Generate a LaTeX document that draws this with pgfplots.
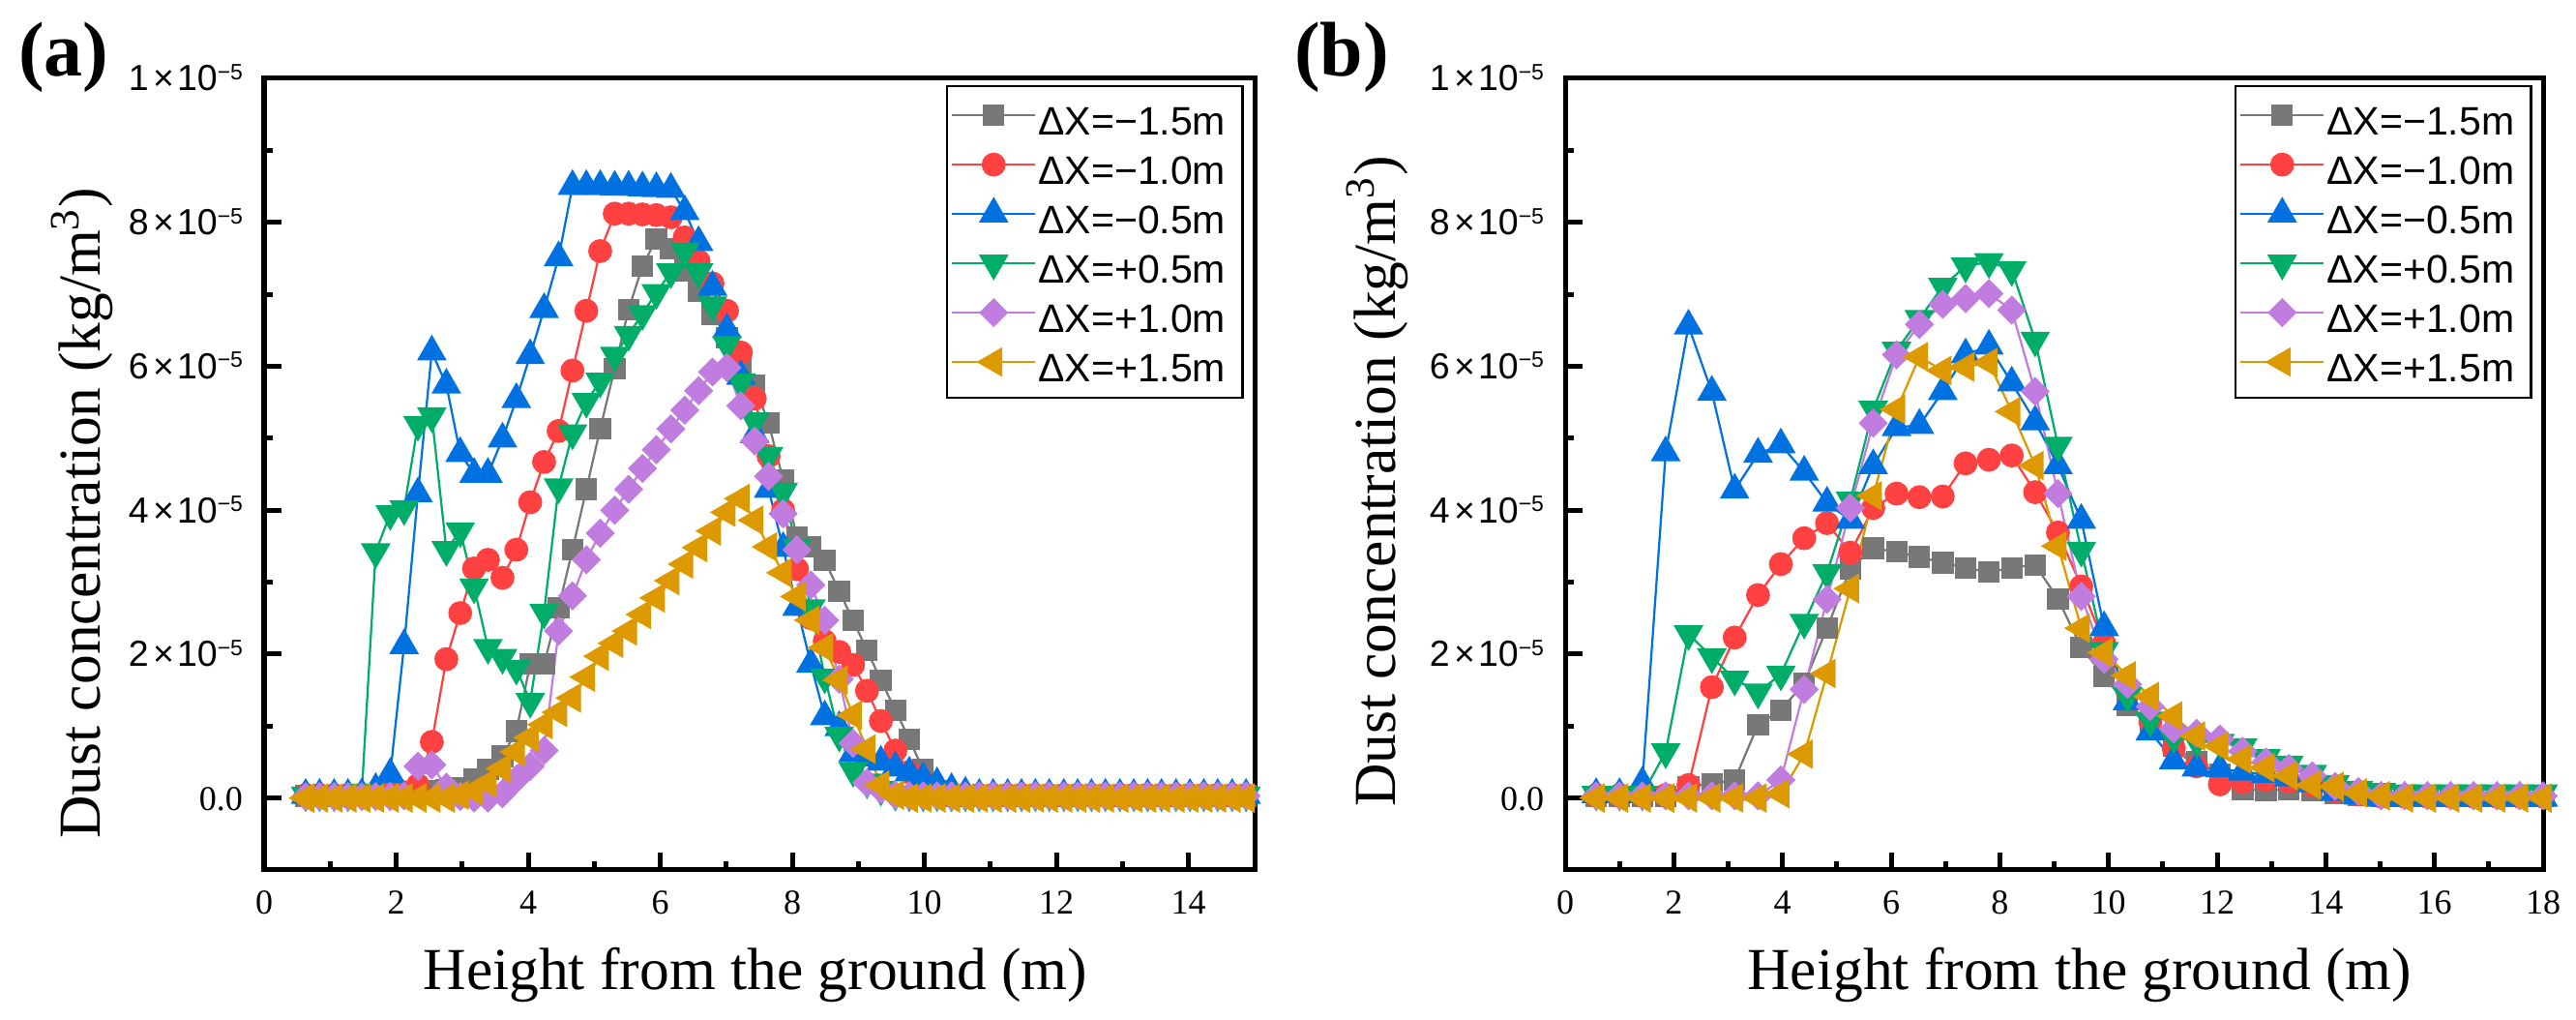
\documentclass[border=0pt]{standalone}
\usepackage{fontspec}
\setmainfont{Liberation Serif}
\newfontfamily\arial{Liberation Sans}
\usepackage{pgfplots}
\usepackage{pgfplotstable}
\pgfplotsset{compat=1.18}

\definecolor{cgray}{RGB}{120,120,120}
\definecolor{cred}{RGB}{255,65,65}
\definecolor{cblue}{RGB}{0,113,224}
\definecolor{cgreen}{RGB}{0,173,104}
\definecolor{cpurple}{RGB}{193,124,224}
\definecolor{corange}{RGB}{221,153,0}

\newcommand{\sci}[1]{{\arial\fontsize{7.5}{9}\selectfont #1\hspace{0.9pt}×\hspace{0.6pt}10\raisebox{2.3pt}{\fontsize{4.6}{5}\selectfont −5}}}

% panel (a): x, gray, red, blue, green, purple, orange  (values in 1e-5 kg/m3)
\pgfplotstableread{
x g r b gr p o
0.63 0.03 0.04 0.04 0.04 0.02 0.00
0.84 0.03 0.04 0.04 0.04 0.02 0.00
1.06 0.03 0.04 0.04 0.04 0.02 0.00
1.27 0.04 0.04 0.04 0.04 0.02 0.00
1.48 0.04 0.04 0.05 0.08 0.02 0.00
1.69 0.05 0.04 0.12 3.42 0.02 0.00
1.91 0.06 0.05 0.33 3.95 0.02 0.00
2.12 0.07 0.08 2.12 4.02 0.03 0.00
2.33 0.08 0.18 4.23 5.19 0.44 0.00
2.54 0.10 0.78 6.20 5.31 0.46 0.00
2.76 0.11 1.93 5.74 3.45 0.15 0.00
2.97 0.14 2.57 4.79 3.71 0.02 0.04
3.18 0.26 3.19 4.50 2.93 0.00 0.10
3.39 0.40 3.31 4.50 2.09 0.00 0.21
3.61 0.58 3.06 4.99 1.95 0.06 0.41
3.82 0.93 3.45 5.54 1.80 0.26 0.64
4.03 1.86 4.11 6.15 1.34 0.44 0.84
4.24 1.86 4.67 6.79 2.58 0.66 1.02
4.46 2.64 5.10 7.51 4.32 2.32 1.19
4.67 3.45 5.94 8.50 5.07 2.81 1.39
4.88 4.29 6.77 8.50 5.51 3.31 1.68
5.09 5.13 7.60 8.50 5.79 3.68 1.97
5.31 5.97 8.12 8.49 6.15 4.00 2.15
5.52 6.79 8.12 8.49 6.44 4.29 2.32
5.73 7.39 8.11 8.48 6.73 4.58 2.55
5.94 7.77 8.10 8.47 7.02 4.84 2.78
6.16 7.63 8.07 8.46 7.31 5.13 3.02
6.37 7.33 7.79 8.15 7.60 5.39 3.25
6.58 7.04 7.46 7.72 7.31 5.66 3.48
6.79 6.72 7.15 7.10 6.85 5.92 3.71
7.01 6.40 6.77 6.51 6.30 5.98 3.97
7.22 6.00 6.19 5.86 5.78 5.45 4.16
7.43 5.73 5.55 5.05 5.24 4.96 3.86
7.64 5.21 4.75 4.29 4.76 4.47 3.49
7.86 4.42 4.00 3.47 4.26 3.95 3.13
8.07 3.63 3.18 2.65 3.48 3.45 2.80
8.28 3.49 2.50 1.86 2.64 2.96 2.47
8.49 3.30 2.18 1.13 1.68 2.47 2.09
8.71 2.87 2.03 0.98 0.87 1.65 1.64
8.92 2.47 1.85 0.62 0.38 0.76 1.15
9.13 2.05 1.49 0.56 0.22 0.21 0.68
9.34 1.64 1.07 0.50 0.12 0.12 0.18
9.56 1.22 0.66 0.42 0.05 0.04 0.04
9.77 0.82 0.36 0.35 0.04 0.03 0.00
9.98 0.39 0.22 0.27 0.04 0.03 0.00
10.19 0.10 0.10 0.20 0.04 0.03 0.00
10.41 0.03 0.04 0.12 0.04 0.03 0.00
10.62 0.03 0.04 0.07 0.04 0.03 0.00
10.83 0.03 0.04 0.04 0.04 0.03 0.00
11.04 0.03 0.04 0.04 0.04 0.03 0.00
11.26 0.03 0.04 0.04 0.04 0.03 0.00
11.47 0.03 0.04 0.04 0.04 0.03 0.00
11.68 0.03 0.04 0.04 0.04 0.03 0.00
11.89 0.03 0.04 0.04 0.04 0.03 0.00
12.11 0.03 0.04 0.04 0.04 0.03 0.00
12.32 0.03 0.04 0.04 0.04 0.03 0.00
12.53 0.03 0.04 0.04 0.04 0.03 0.00
12.74 0.03 0.04 0.04 0.04 0.03 0.00
12.96 0.03 0.04 0.04 0.04 0.03 0.00
13.17 0.03 0.04 0.04 0.04 0.03 0.00
13.38 0.03 0.04 0.04 0.04 0.03 0.00
13.59 0.03 0.04 0.04 0.04 0.03 0.00
13.81 0.03 0.04 0.04 0.04 0.03 0.00
14.02 0.03 0.04 0.04 0.04 0.03 0.00
14.23 0.03 0.04 0.04 0.04 0.03 0.00
14.44 0.03 0.04 0.04 0.04 0.03 0.00
14.66 0.03 0.04 0.04 0.04 0.03 0.00
14.87 0.03 0.04 0.04 0.04 0.03 0.00
}\tabA

% panel (b)
\pgfplotstableread{
x g r b gr p o
0.57 0.02 0.04 0.05 0.05 0.03 0.00
1.00 0.02 0.04 0.05 0.05 0.03 0.00
1.42 0.02 0.04 0.21 0.05 0.03 0.00
1.85 0.02 0.04 4.80 0.64 0.03 0.00
2.27 0.16 0.18 6.56 2.28 0.03 0.00
2.70 0.20 1.54 5.64 1.96 0.03 0.00
3.12 0.25 2.23 4.28 1.65 0.03 0.00
3.55 1.02 2.82 4.78 1.47 0.03 0.00
3.97 1.22 3.25 4.91 1.72 0.25 0.06
4.40 1.60 3.61 4.53 2.44 1.51 0.61
4.82 2.36 3.82 4.10 3.13 2.76 1.73
5.25 3.19 3.41 3.86 4.14 4.03 2.91
5.67 3.47 4.03 4.62 5.40 5.21 4.20
6.10 3.42 4.23 5.15 6.22 6.16 5.40
6.52 3.35 4.18 5.18 6.66 6.58 6.13
6.95 3.27 4.19 5.65 7.11 6.86 5.94
7.37 3.20 4.65 6.16 7.39 6.94 5.99
7.80 3.14 4.70 6.28 7.45 7.01 6.05
8.22 3.20 4.76 5.77 7.34 6.78 5.37
8.65 3.24 4.25 5.23 6.36 5.65 4.62
9.07 2.77 3.69 4.62 4.90 4.23 3.50
9.50 2.09 2.94 3.86 3.44 2.80 2.36
9.92 1.69 2.15 2.37 2.05 1.93 2.02
10.35 1.29 1.48 1.34 1.42 1.58 1.70
10.77 1.00 1.06 0.92 1.08 1.27 1.41
11.20 0.72 0.69 0.52 0.85 0.96 1.14
11.62 0.50 0.44 0.42 0.79 0.90 0.86
12.05 0.33 0.19 0.41 0.77 0.82 0.72
12.47 0.12 0.22 0.36 0.71 0.65 0.54
12.90 0.11 0.25 0.33 0.56 0.50 0.42
13.32 0.12 0.23 0.28 0.47 0.41 0.31
13.75 0.10 0.18 0.20 0.34 0.31 0.18
14.17 0.07 0.10 0.08 0.20 0.16 0.16
14.60 0.04 0.05 0.03 0.12 0.09 0.07
15.02 0.02 0.02 0.00 0.09 0.03 0.03
15.45 0.02 0.02 0.00 0.07 0.03 0.00
15.87 0.02 0.02 0.00 0.07 0.03 0.00
16.30 0.02 0.02 0.00 0.07 0.03 0.00
16.72 0.02 0.02 0.00 0.07 0.03 0.00
17.15 0.02 0.02 0.00 0.07 0.03 0.00
17.57 0.02 0.02 0.00 0.07 0.03 0.00
18.00 0.02 0.02 0.00 0.07 0.03 0.00
}\tabB

\pgfplotsset{
  panel/.style={
    scale only axis, anchor=south west,
    height=163.6pt,
    ymin=-1, ymax=10,
    ytick={0,2,4,6,8,10},
    yticklabels={{\fontsize{7.2}{8}\selectfont 0.0},\sci{2},\sci{4},\sci{6},\sci{8},\sci{1}},
    minor ytick={1,3,5,7,9},
    tick align=inside, tick pos=left,
    major tick length=3.6pt, minor tick length=1.8pt,
    every tick/.style={black, line width=1pt},
    every minor tick/.style={black, line width=1pt},
    axis line style={line width=1pt},
    /pgf/number format/assume math mode=true,
    xticklabel style={font=\fontsize{7.2}{8}\selectfont, anchor=north, inner sep=0pt, yshift=-4.2pt},
    yticklabel style={anchor=base east, inner sep=0pt, xshift=-4.2pt, yshift=-2.6pt},
    xlabel={Height from the ground (m)},
    ylabel={Dust concentration (kg/m\textsuperscript{3})},
    legend style={at={(axis description cs:1,1)}, anchor=north east, xshift=-2.3pt, yshift=-1.4pt,
      draw=black, line width=0.45pt, fill=white, inner xsep=0.8pt, inner ysep=1.6pt, row sep=0pt,
      font=\arial\fontsize{8.2}{9}\selectfont,
      nodes={inner xsep=0.4pt, inner ysep=0pt, text height=8.4pt, text depth=1.8pt, text width=41pt, align=left}},
    legend cell align=left,
    legend image code/.code={\draw[mark repeat=2,mark phase=2] plot coordinates {(0pt,0.7pt)(8.6pt,0.7pt)(17.2pt,0.7pt)};},
  },
  sg/.style={color=cgray, line width=0.45pt, mark=square*, mark size=2pt, mark options={solid}},
  sr/.style={color=cred, line width=0.45pt, mark=*, mark size=2.25pt, mark options={solid}},
  sb/.style={color=cblue, line width=0.45pt, mark=triangle*, mark size=3.1pt, mark options={solid}},
  sgr/.style={color=cgreen, line width=0.45pt, mark=triangle*, mark size=3.1pt, mark options={solid, rotate=180}},
  sp/.style={color=cpurple, line width=0.45pt, mark=square*, mark size=1.91pt, mark options={solid, rotate=45}},
  so/.style={color=corange, line width=0.45pt, mark=triangle*, mark size=3.1pt, mark options={solid, rotate=90}},
}

\begin{document}
\begin{tikzpicture}
\path[use as bounding box] (0pt,0pt) rectangle (532.6pt,210.8pt);

\begin{axis}[panel, at={(54.6pt,31pt)}, width=204.8pt,
  xmin=0, xmax=15, xtick={0,2,4,6,8,10,12,14}, xticklabels={0,2,4,6,8,10,12,14},
  minor xtick={1,3,5,7,9,11,13},
  every axis x label/.style={at={(axis description cs:0.496,-0.1516)}, anchor=base, font=\fontsize{12.3}{14}\selectfont},
  every axis y label/.style={at={(axis description cs:-0.166,0.451)}, anchor=base, rotate=90, font=\fontsize{12.3}{14}\selectfont},
]
\addplot[sg] table[x=x,y=g]{\tabA};
\addplot[sr] table[x=x,y=r]{\tabA};
\addplot[sb] table[x=x,y=b]{\tabA};
\addplot[sgr] table[x=x,y=gr]{\tabA};
\addplot[sp] table[x=x,y=p]{\tabA};
\addplot[so] table[x=x,y=o]{\tabA};
\legend{ΔX=−1.5m,ΔX=−1.0m,ΔX=−0.5m,ΔX=+0.5m,ΔX=+1.0m,ΔX=+1.5m}
\end{axis}

\begin{axis}[panel, at={(323.6pt,31pt)}, width=202.2pt,
  xmin=0, xmax=18, xtick={0,2,4,6,8,10,12,14,16,18}, xticklabels={0,2,4,6,8,10,12,14,16,18},
  minor xtick={1,3,5,7,9,11,13,15,17},
  every axis x label/.style={at={(axis description cs:0.526,-0.1516)}, anchor=base, font=\fontsize{12.3}{14}\selectfont},
  every axis y label/.style={at={(axis description cs:-0.174,0.491)}, anchor=base, rotate=90, font=\fontsize{12.3}{14}\selectfont},
]
\addplot[sg] table[x=x,y=g]{\tabB};
\addplot[sr] table[x=x,y=r]{\tabB};
\addplot[sb] table[x=x,y=b]{\tabB};
\addplot[sgr] table[x=x,y=gr]{\tabB};
\addplot[sp] table[x=x,y=p]{\tabB};
\addplot[so] table[x=x,y=o]{\tabB};
\legend{ΔX=−1.5m,ΔX=−1.0m,ΔX=−0.5m,ΔX=+0.5m,ΔX=+1.0m,ΔX=+1.5m}
\end{axis}

\node[font=\bfseries\fontsize{16}{18}\selectfont, inner sep=0pt] at (13.2pt,198.9pt) {(a)};
\node[font=\bfseries\fontsize{16}{18}\selectfont, inner sep=0pt] at (277.4pt,198.9pt) {(b)};
\end{tikzpicture}
\end{document}
